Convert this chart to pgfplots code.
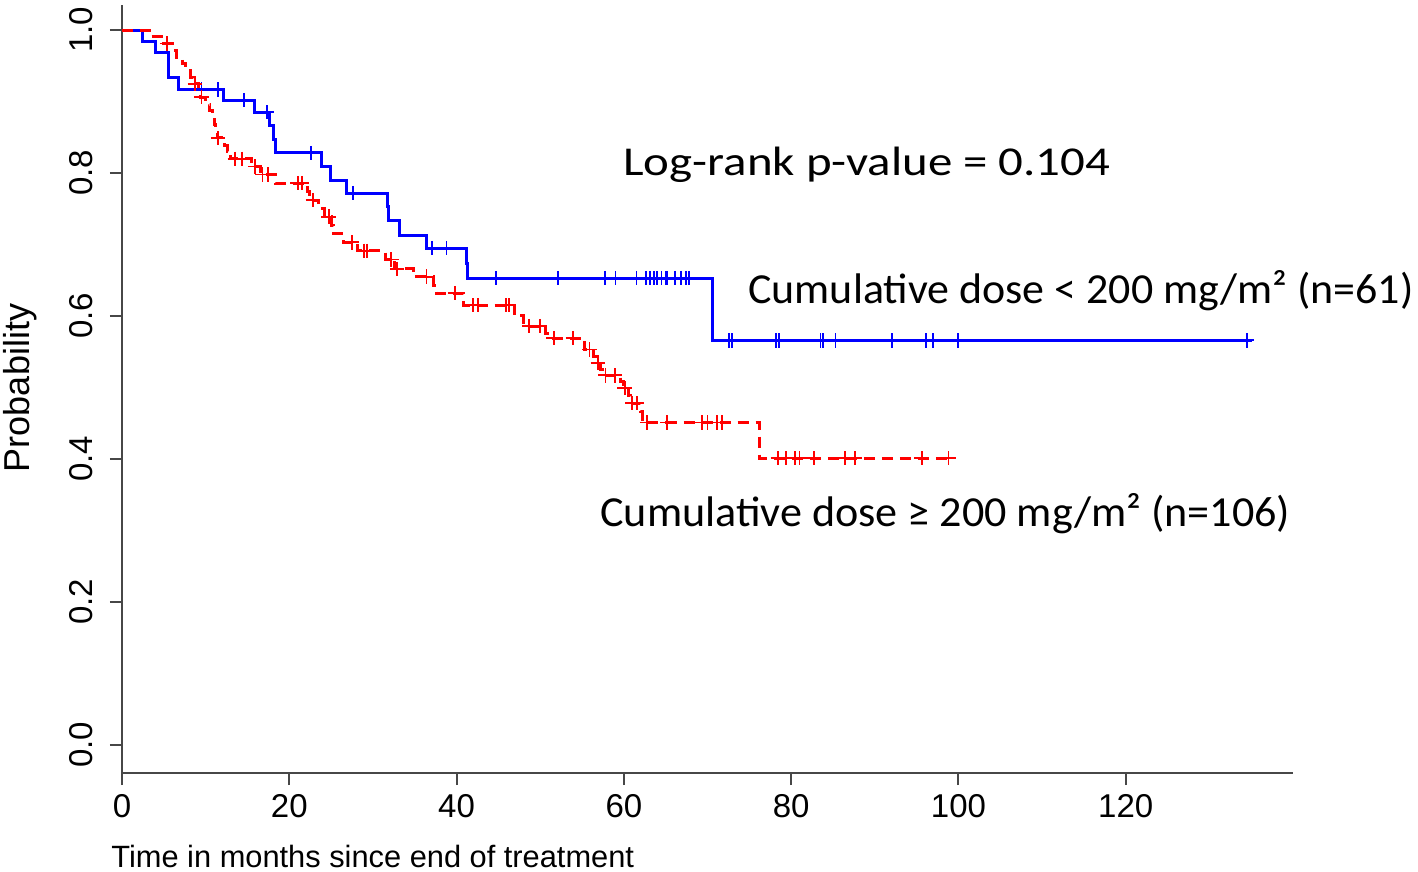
\documentclass[border=0pt]{standalone}
\usepackage{pgfplots}
\pgfplotsset{compat=1.18}
\usepackage{fontspec}
\usepackage{graphicx}
\setmainfont{Liberation Sans}
\newfontfamily\calfont{Carlito}

\pgfplotstableread{
t S
0 1.000
2.5 0.984
4.0 0.968
5.5 0.951
5.6 0.934
6.7 0.917
12.1 0.902
15.8 0.885
17.6 0.866
18.1 0.847
18.4 0.828
23.9 0.809
24.9 0.790
26.8 0.772
31.8 0.753
31.9 0.733
33.2 0.713
36.4 0.695
41.2 0.674
41.3 0.653
70.6 0.566
135.1 0.566
}\bluesteps

\pgfplotstableread{
t S
9.5 0.917
11.5 0.917
14.6 0.902
17.3 0.885
22.6 0.828
27.6 0.772
37.1 0.695
38.8 0.695
44.7 0.653
52.1 0.653
57.7 0.653
59.0 0.653
61.5 0.653
62.6 0.653
63.1 0.653
63.6 0.653
64.0 0.653
64.5 0.653
65.0 0.653
65.2 0.653
66.1 0.653
66.8 0.653
67.4 0.653
67.8 0.653
72.6 0.566
72.9 0.566
78.2 0.566
78.5 0.566
83.5 0.566
83.8 0.566
85.3 0.566
92.1 0.566
96.1 0.566
97.0 0.566
99.9 0.566
134.5 0.566
}\bluecens

\pgfplotstableread{
t S
0 1.000
3.5 0.991
5.0 0.981
6.0 0.972
6.5 0.962
7.2 0.953
7.6 0.943
8.2 0.934
8.5 0.925
9.2 0.915
9.4 0.906
10.0 0.896
10.5 0.887
10.8 0.877
11.0 0.868
11.2 0.858
11.4 0.849
12.3 0.839
12.6 0.830
13.0 0.820
15.5 0.809
16.5 0.798
18.3 0.786
22.2 0.774
22.4 0.762
23.5 0.750
24.2 0.739
25.1 0.727
25.3 0.715
26.5 0.703
28.2 0.691
31.5 0.679
32.6 0.666
34.8 0.655
37.3 0.643
37.6 0.632
40.8 0.615
46.9 0.600
48.0 0.586
50.6 0.575
51.1 0.569
55.3 0.553
56.4 0.543
56.8 0.534
57.2 0.525
57.5 0.517
59.6 0.508
59.9 0.499
60.5 0.489
60.8 0.478
62.0 0.466
62.2 0.451
76.2 0.401
99.3 0.401
}\redsteps

\pgfplotstableread{
t S
5.4 0.981
8.7 0.925
9.5 0.906
11.5 0.849
13.5 0.820
14.3 0.820
15.9 0.809
16.8 0.798
17.5 0.798
21.0 0.786
21.5 0.786
22.8 0.762
24.7 0.739
27.5 0.703
28.9 0.691
29.3 0.691
32.2 0.679
32.9 0.666
36.4 0.655
39.8 0.632
42.0 0.615
42.6 0.615
45.9 0.615
46.3 0.615
48.7 0.586
50.0 0.586
51.6 0.569
53.9 0.569
55.9 0.553
56.9 0.534
57.8 0.517
58.9 0.517
60.1 0.499
61.0 0.478
61.6 0.478
62.8 0.451
65.2 0.451
69.3 0.451
70.0 0.451
71.1 0.451
71.7 0.451
78.4 0.401
79.4 0.401
80.5 0.401
81.0 0.401
82.7 0.401
86.4 0.401
87.6 0.401
95.6 0.401
98.8 0.401
}\redcens

\begin{document}
\begin{tikzpicture}
\begin{axis}[
  at={(0,0)}, anchor=south west,
  scale only axis, width=585.5pt, height=384pt,
  xmin=0, xmax=140, ymin=-0.0392, ymax=1.035,
  axis x line=bottom, axis y line=left,
  axis line style={-, black!72, line width=1.2pt},
  xtick={0,20,...,120}, ytick={0,0.2,0.4,0.6,0.8,1.0},
  tick align=outside, major tick length=6pt,
  tick style={black!72, line width=1pt},
  xticklabel style={font=\fontsize{16.5}{16.5}\selectfont, yshift=-1pt},
  yticklabel style={font=\fontsize{16.5}{16.5}\selectfont, rotate=90, anchor=south},
  yticklabel shift=5pt,
  /pgf/number format/assume math mode=true,
  y tick label style={/pgf/number format/.cd, fixed, fixed zerofill, precision=1},
  clip=false,
]
\addplot[const plot, blue, line width=1.5pt] table[x=t, y=S] {\bluesteps};
\addplot[only marks, mark=+, mark size=3.6pt, blue, mark options={line width=0.9pt}] table[x=t, y=S] {\bluecens};
\addplot[const plot, red, line width=1.5pt, dash pattern=on 5.5pt off 3.5pt] table[x=t, y=S] {\redsteps};
\addplot[only marks, mark=+, mark size=3.6pt, red, mark options={solid, line width=0.9pt}] table[x=t, y=S] {\redcens};
\end{axis}
\begin{scope}[x=0.5pt, y=-0.5pt, shift={(-61pt,386.5pt)}]
\node[rotate=90, inner sep=0pt, font=\fontsize{18}{18}\selectfont] at (20,388) {Probability};
\node[anchor=base west, inner sep=0pt, font=\fontsize{15.4}{15.4}\selectfont] at (111,867) {Time in months since end of treatment};
\node[anchor=base west, inner sep=0pt] at (623,176) {\resizebox{243.5pt}{\height}{\calfont\fontsize{20.5}{20.5}\selectfont Log-rank p-value = 0.104}};
\node[anchor=base west, inner sep=0pt] at (748,304) {\resizebox{332.5pt}{\height}{\calfont\fontsize{21.4}{21.4}\selectfont Cumulative dose < 200 mg/m² (n=61)}};
\node[anchor=base west, inner sep=0pt] at (600,527) {\resizebox{345pt}{\height}{\calfont\fontsize{21.4}{21.4}\selectfont Cumulative dose ≥ 200 mg/m² (n=106)}};
\end{scope}
\pgfresetboundingbox
\path[use as bounding box] (-61pt,-49.5pt) rectangle (648pt,386.5pt);
\end{tikzpicture}
\end{document}
